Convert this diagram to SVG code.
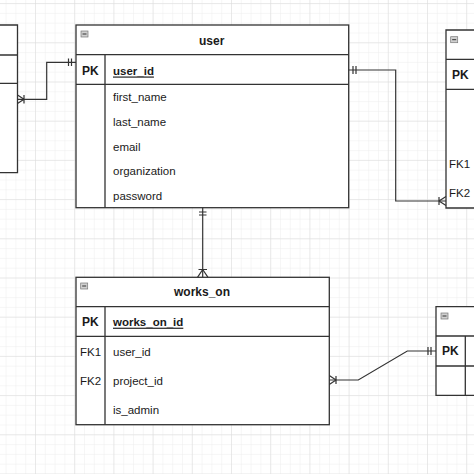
<svg xmlns="http://www.w3.org/2000/svg" width="474" height="474" viewBox="0 0 474 474">
<defs>
<pattern id="minor" x="35" y="238.3" width="9.8" height="9.8" patternUnits="userSpaceOnUse">
<path d="M0 0H9.8M0 0V9.8" fill="none" stroke="#eeeeee" stroke-width="1"/>
</pattern>
<pattern id="major" x="35" y="238.3" width="39.2" height="39.2" patternUnits="userSpaceOnUse">
<path d="M0 0H39.2M0 0V39.2" fill="none" stroke="#dcdcdc" stroke-width="1"/>
</pattern>
<g id="icon">
<rect x="0" y="0" width="7" height="6" fill="#d0d0d0" stroke="#777" stroke-width="0.7"/>
<line x1="1.5" y1="3" x2="5.5" y2="3" stroke="#333" stroke-width="1"/>
</g>
</defs>
<style>
.tb{fill:#fff;stroke:#333;stroke-width:1.3}
.ln{fill:none;stroke:#333;stroke-width:1.3}
.cn{fill:none;stroke:#333;stroke-width:1.2}
text{font-family:"Liberation Sans",Arial,sans-serif;font-size:11.5px;fill:#1a1a1a;dominant-baseline:central}
.t{font-size:12px;font-weight:bold;text-anchor:middle}
.k{font-weight:bold;font-size:12px}
.u{font-weight:bold;text-decoration:underline}
</style>
<rect width="474" height="474" fill="#fff"/>
<rect width="474" height="474" fill="url(#minor)"/>
<rect width="474" height="474" fill="url(#major)"/>

<g id="table-left">
<path class="tb" d="M-2 25H17.5V172.7H-2Z"/>
<path class="ln" d="M-2 55H17.5M-2 83.3H17.5"/>
</g>

<g id="table-user">
<rect class="tb" x="76" y="25" width="272.7" height="182.7"/>
<path class="ln" d="M76 54.7H348.7M76 84.3H348.7M105 54.7V207.7"/>
<use href="#icon" x="81" y="31"/>
<text class="t" x="211.7" y="41">user</text>
<text class="k" x="82" y="70.5">PK</text>
<text class="u" x="113" y="70.5">user_id</text>
<text x="113" y="97.3">first_name</text>
<text x="113" y="121.8">last_name</text>
<text x="113" y="146.5">email</text>
<text x="113" y="171.3">organization</text>
<text x="113" y="195.7">password</text>
</g>

<g id="table-right">
<path class="tb" d="M476 30H446V208H476"/>
<path class="ln" d="M446 59.3H476M446 89.3H476"/>
<use href="#icon" x="450.7" y="36.7"/>
<text class="k" x="452" y="75">PK</text>
<text x="449" y="164.3">FK1</text>
<text x="449" y="193.3">FK2</text>
</g>

<g id="table-works_on">
<rect class="tb" x="76" y="277.3" width="253.3" height="147.4"/>
<path class="ln" d="M76 306.7H329.3M76 336.3H329.3M105 306.7V424.7"/>
<use href="#icon" x="80.7" y="283"/>
<text class="t" x="202" y="292">works_on</text>
<text class="k" x="82" y="321.7">PK</text>
<text class="u" x="113" y="321.7">works_on_id</text>
<text x="80" y="351.7">FK1</text>
<text x="113" y="351.7">user_id</text>
<text x="80" y="381">FK2</text>
<text x="113" y="381">project_id</text>
<text x="113" y="410.3">is_admin</text>
</g>

<g id="table-project">
<path class="tb" d="M476 306.7H436V395.3H476"/>
<path class="ln" d="M436 336H476M436 366H476M465.3 336V395.3"/>
<use href="#icon" x="441" y="313"/>
<text class="k" x="442" y="351">PK</text>
</g>

<g id="connectors">
<!-- left table to user -->
<path class="cn" d="M17.5 99.3H46.7V62.3H76"/>
<path class="cn" d="M68.5 58.5V66M71.5 58.5V66"/>
<path class="cn" d="M24 95V103.5M17.5 95L24 99.3L17.5 103.5"/>
<!-- user to right table -->
<path class="cn" d="M348.7 70H395.7V201H446"/>
<path class="cn" d="M353 66V74M356 66V74"/>
<path class="cn" d="M439 197V205M446 196.5L439 201L446 205.5"/>
<!-- user to works_on -->
<path class="cn" d="M202.7 207.7V277.3"/>
<path class="cn" d="M199 212H206.5M199 215H206.5"/>
<path class="cn" d="M198.5 269.5H207M197.5 277.3L202.7 269.5L208 277.3"/>
<!-- works_on to project -->
<path class="cn" d="M329.3 380H358.3L407.3 351H436"/>
<path class="cn" d="M428 347V355M431 347V355"/>
<path class="cn" d="M336 376V384M329.3 375.5L336 380L329.3 384.5"/>
</g>
</svg>
